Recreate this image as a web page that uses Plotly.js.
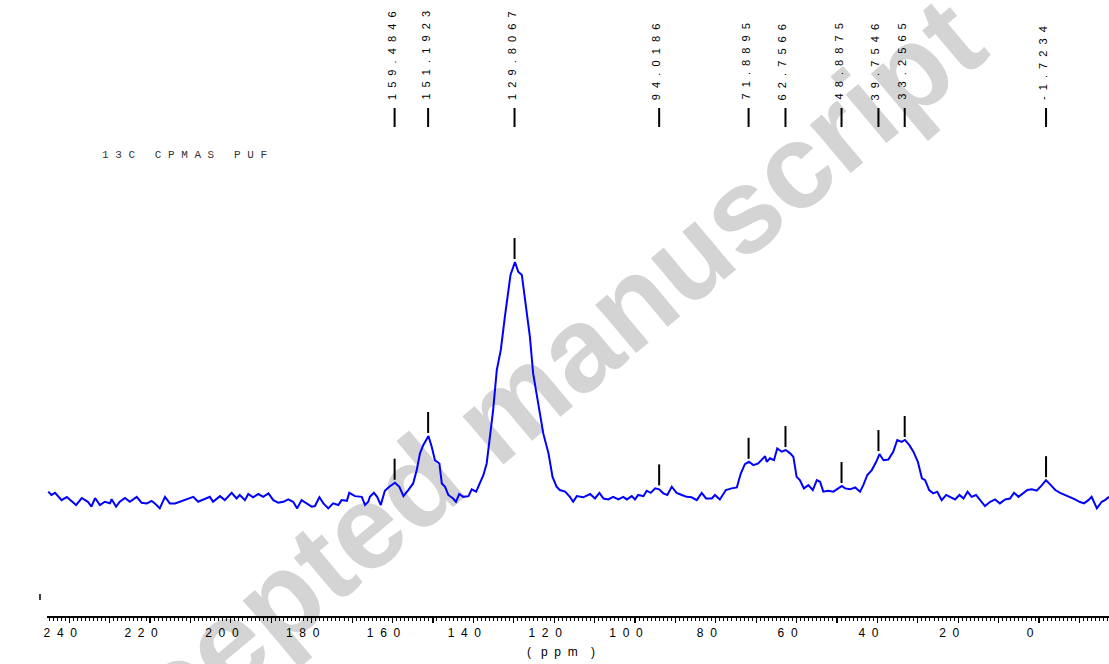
<!DOCTYPE html>
<html><head><meta charset="utf-8">
<script src="https://cdn.plot.ly/plotly-3.0.1.min.js"></script>
<style>html,body{margin:0;padding:0;background:#fff}#chart{width:1109px;height:664px}</style>
</head><body><div id="chart"></div>
<script>
// chemical shift (ppm) and intensity (a.u., main peak = 100)
const ppm = [
245.2,244.4,243.5,241.9,240.6,239.1,238.3,236.9,235.4,234.5,
233.6,232.4,231.2,229.9,229.5,228.4,227.5,226.2,225.0,223.3,
222.1,220.8,219.6,218.4,217.6,216.3,215.1,213.8,212.6,210.9,
209.3,208.1,206.8,205.2,204.4,202.7,201.5,199.8,198.6,197.8,
196.5,195.7,194.5,193.2,192.0,190.7,189.5,188.3,187.0,185.8,
184.6,183.6,182.5,181.2,180.0,179.2,178.1,177.1,175.9,174.7,
173.4,172.6,171.3,170.7,169.3,167.6,166.8,166.0,
165.6,164.6,163.8,162.9,161.9,160.8,159.4,158.3,157.3,156.1,
154.9,154.0,153.2,152.4,151.1,150.3,149.5,148.4,147.8,147.0,
146.2,145.0,144.3,143.5,142.5,141.2,140.4,139.3,138.5,137.5,
136.7,135.9,135.1,134.2,133.2,132.2,131.3,130.8,129.7,128.9,
128.0,127.5,126.8,126.0,125.2,123.9,122.7,121.4,120.4,119.4,
118.6,117.3,116.1,115.3,114.4,112.8,111.1,109.9,108.8,107.8,
106.6,105.4,104.1,
102.9,102.0,100.8,100.0,99.2,97.9,97.1,96.1,95.0,94.0,
93.0,92.0,90.9,89.7,88.4,87.2,86.0,84.7,83.5,82.4,
81.0,80.2,79.0,77.5,76.1,74.8,73.8,72.8,71.8,70.7,
69.5,68.4,67.8,67.4,66.6,65.6,64.8,63.7,62.7,61.6,
60.8,60.0,59.2,58.2,57.1,56.0,55.0,54.2,53.4,52.2,
50.9,49.7,48.8,48.0,46.8,45.5,44.3,43.5,42.5,41.4,
40.3,39.5,38.5,37.3,36.7,36.1,35.1,34.0,33.2,32.1,
31.1,30.0,29.0,28.2,27.2,26.2,25.2,24.1,23.0,22.0,
20.8,19.7,18.7,17.7,16.7,15.6,14.6,13.4,12.1,10.9,
9.7,8.4,7.2,6.2,5.1,3.9,2.9,1.8,0.6,-0.7,
-1.7,-2.9,-4.0,-5.2,-6.4,-7.7,-8.9,-10.0,-11.1,-12.2,
-13.0,-14.3,-15.5,-16.3,-17.3
];
const intensity = [
2.3,0.9,1.8,-1.3,0,-2.0,-3.4,-0.4,-2.0,-4.1,
-0.4,-3.4,-2.0,-2.6,-0.9,-4.1,-2.0,-0.4,-2.0,0.1,
-2.4,-2.7,-1.6,-3.4,-4.8,0.1,-2.7,-2.7,-2.0,-1.0,
0.1,-2.0,-1.0,0.1,-2.0,0.4,-1.3,1.8,-0.6,0.9,
-1.3,1.3,-0.1,1.3,0.1,1.6,-1.3,-2.4,-2.0,-1.0,
-2.0,-4.8,-1.3,-2.7,-4.1,-3.8,-0.1,-2.7,-4.8,-2.7,
-3.4,-1.3,-1.6,1.8,0.4,0.1,-3.4,-2.0,
0.1,1.8,0.1,-3.4,2.7,4.4,6.1,4.4,0.4,3.0,
5.8,11.5,18.6,22.1,26.0,21.4,15.7,14.3,5.8,4.4,
0.9,-0.6,-2.0,1.3,0.1,0.4,3.3,2.3,5.8,9.4,
14.3,25.7,37.0,54.0,62.6,76.7,88.1,94.5,100,95.9,
94.5,87.4,79.6,68.2,52.6,38.4,27.1,18.6,8.6,4.4,
3.0,2.3,0.1,-2.0,0.4,-0.1,1.3,-0.6,1.8,-0.6,
-1.0,0.1,-1.0,
0.1,-1.0,0.4,-1.0,0.9,0.4,2.7,1.8,3.7,3.3,
1.6,0.9,4.4,1.8,0.9,0.1,-0.1,-1.3,1.8,-0.6,
-0.6,0.9,-1.0,3.0,3.7,4.1,10.1,14.0,15.0,13.6,
14.3,16.5,17.4,15.0,16.5,15.7,20.7,19.3,20.0,18.6,
17.1,8.6,7.2,3.7,5.1,3.0,7.2,6.5,2.3,2.7,
2.3,3.7,4.7,3.7,3.3,4.1,2.3,5.1,9.4,11.5,
15.0,18.3,15.7,16.0,17.9,19.3,24.3,23.5,24.3,22.1,
19.3,15.0,8.0,7.2,3.0,1.6,2.3,-1.3,0.9,0.1,
-1.0,0.9,-0.6,2.3,0.1,0.9,-1.3,-3.8,-2.0,-1.0,
-2.7,-1.0,-0.6,1.8,0.1,1.6,3.0,3.3,2.7,5.1,
7.2,5.1,3.0,1.8,0.9,0.1,-1.0,-2.0,-2.7,-1.3,
0.1,-4.8,-2.0,-1.3,0.1
];
const peakShifts = [159.4846, 151.1923, 129.8067, 94.0186, 71.8895, 62.7566, 48.8875, 39.7546, 33.2565, -1.7234];
const tickValues = [240,230,220,210,200,190,180,170,160,150,140,130,120,110,100,90,80,70,60,50,40,30,20,10,0,-10];
const tickLabels = ['240','','220','','200','','180','','160','','140','','120','','100','','80','','60','','40','','20','','0',''];
const sampleTitle = '13C CPMAS PUF';
const axisTitle = '(ppm)';
const watermark = 'Accepted manuscript';

const NB = '\u00a0';
const spaced = (s, gap) => s.split('').join(gap);
const H = 616; // plot-area height in px
const py = p => (H - p) / H; // pixel row -> paper y

function localMax(p) {
  let m = -Infinity;
  ppm.forEach((v, i) => { if (Math.abs(v - p) <= 1.0 && intensity[i] > m) m = intensity[i]; });
  return m;
}

const shapes = [];
const annotations = [];

shapes.push({
  type: 'rect', xref: 'paper', yref: 'paper', layer: 'below',
  x0: 0.415, x1: 0.421, y0: 0.338, y1: 0.344,
  line: {width: 0}, fillcolor: 'rgba(0,0,0,0)',
  label: {text: watermark, textangle: -40, textposition: 'middle center',
    font: {family: 'Liberation Sans, Arial, sans-serif', size: 120, color: '#d4d4d4', weight: 'bold'}}
});

peakShifts.forEach(p => {
  annotations.push({
    x: p, xref: 'x', y: py(102), yref: 'paper', xanchor: 'center', yanchor: 'bottom',
    textangle: -90, showarrow: false, xshift: -3,
    text: spaced(p.toFixed(4), NB + NB),
    font: {family: 'Liberation Sans, Arial, sans-serif', size: 11, color: '#000'}
  });
  shapes.push({type: 'line', xref: 'x', yref: 'paper', x0: p, x1: p, y0: py(127), y1: py(108),
    line: {color: '#000', width: 2}});
  shapes.push({type: 'line', xref: 'x', yref: 'y', ysizemode: 'pixel', yanchor: localMax(p),
    x0: p, x1: p, y0: 3, y1: 24, line: {color: '#000', width: 2}});
});

shapes.push({type: 'line', xref: 'paper', yref: 'paper', x0: -0.0066, x1: -0.0066,
  y0: py(600), y1: py(594), line: {color: '#000', width: 1.5}});

annotations.push({
  x: (100 - 47) / 1062, xref: 'paper', y: py(155), yref: 'paper', xanchor: 'left', yanchor: 'middle',
  showarrow: false,
  text: sampleTitle.split(' ').map(w => spaced(w, NB)).join(NB + NB + NB),
  font: {family: 'Liberation Mono, Courier New, monospace', size: 11, color: '#333'}
});
annotations.push({
  x: (561 - 47) / 1062, xref: 'paper', y: py(652), yref: 'paper', xanchor: 'center', yanchor: 'middle',
  showarrow: false,
  text: '(' + NB + NB + NB + 'p' + NB + NB + 'p' + NB + NB + 'm' + NB + NB + NB + NB + ')',
  font: {family: 'Liberation Sans, Arial, sans-serif', size: 12, color: '#000'}
});

const trace = {
  x: ppm, y: intensity, type: 'scatter', mode: 'lines',
  line: {color: '#0000ff', width: 2}, hoverinfo: 'skip'
};

const layout = {
  width: 1109, height: 664,
  margin: {l: 47, r: 0, t: 0, b: 48},
  paper_bgcolor: '#ffffff', plot_bgcolor: 'rgba(0,0,0,0)',
  showlegend: false,
  xaxis: {
    range: [245.5, -17.3], showgrid: false, zeroline: false,
    showline: true, linecolor: '#000', linewidth: 1.5,
    tickmode: 'array', tickvals: tickValues,
    ticktext: tickLabels.map(t => spaced(t, NB + NB)),
    ticks: 'outside', ticklen: 5, tickwidth: 1.2, tickcolor: '#000',
    ticklabelshift: 9,
    tickfont: {family: 'Liberation Sans, Arial, sans-serif', size: 12, color: '#000'},
    minor: {dtick: 1, tick0: 0, ticks: 'outside', ticklen: 3, tickwidth: 1, tickcolor: '#000', showgrid: false}
  },
  yaxis: {range: [-50.6, 211.5], visible: false, showgrid: false, zeroline: false},
  shapes: shapes,
  annotations: annotations
};

Plotly.newPlot('chart', [trace], layout, {displayModeBar: false, staticPlot: true});
</script>
</body></html>
